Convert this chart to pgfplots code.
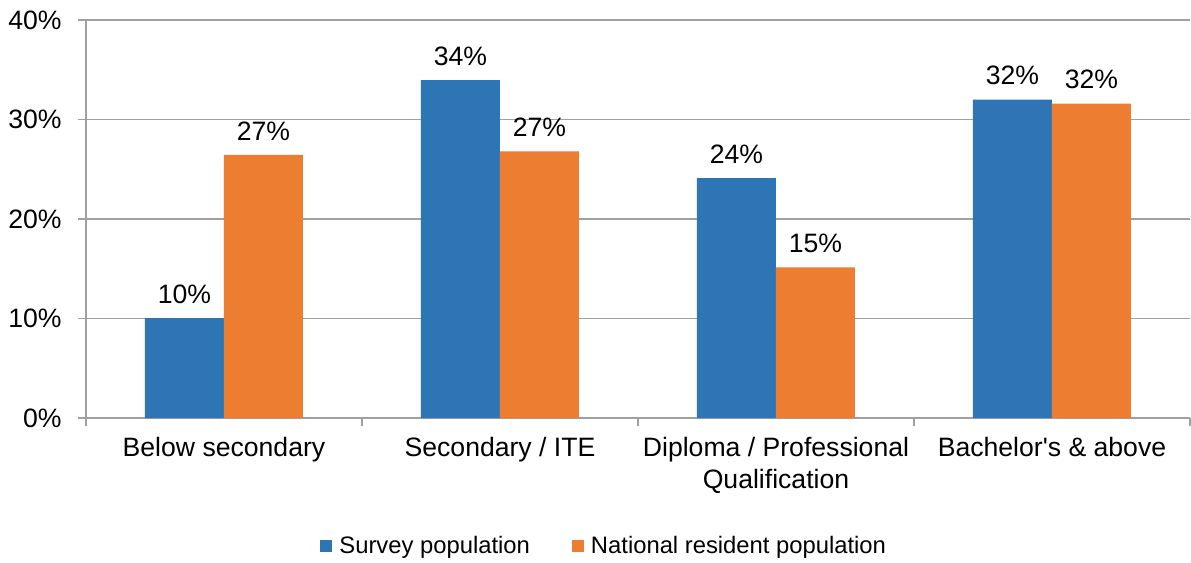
\documentclass[border=0pt]{standalone}
\usepackage{fontspec}
\setmainfont{Liberation Sans}[Ligatures=TeXOff]
\usepackage{pgfplots}
\pgfplotsset{compat=1.18}
\definecolor{cblue}{HTML}{2E75B6}
\definecolor{corange}{HTML}{ED7D31}
\definecolor{cgrid}{HTML}{A0A0A0}
\begin{document}
\begin{tikzpicture}[font=\fontsize{13.3}{16}\selectfont]
\path[use as bounding box] (-43pt,-72.5pt) rectangle (552.5pt,209pt);
\begin{axis}[
  at={(0,0)}, anchor=south west,
  scale only axis, width=552pt, height=199pt,
  ybar=0pt, bar width=39.5pt,
  xmin=-0.5, xmax=3.5, ymin=0, ymax=40,
  axis x line*=bottom, axis y line*=left,
  axis line style={cgrid, line width=0.8pt},
  xtick={0,1,2,3},
  xticklabels={Below secondary, Secondary / ITE, Diploma / Professional\\Qualification, Bachelor's \& above},
  xticklabel style={align=center, inner sep=0pt, anchor=north, yshift=-5.5pt},
  major x tick style={draw=none},
  minor xtick={-0.5,0.5,1.5,2.5,3.5},
  minor x tick style={cgrid, line width=0.8pt},
  minor tick length=4pt,
  ytick={0,10,20,30,40},
  yticklabels={0\%,10\%,20\%,30\%,40\%},
  yticklabel style={inner sep=0pt, anchor=east, xshift=-8pt},
  major y tick style={cgrid, line width=0.8pt},
  major tick length=4pt,
  tick align=outside,
  ymajorgrids, grid style={cgrid, line width=0.8pt},
  point meta=explicit symbolic,
  nodes near coords={\pgfplotspointmeta\%},
  every node near coord/.append style={anchor=south, inner sep=0pt, yshift=7pt, font=\fontsize{13.3}{16}\selectfont},
  legend style={at={(0.212,-0.322)}, anchor=west, draw=none, fill=none, inner sep=0pt,
    legend columns=2, /tikz/every even column/.style={column sep=19pt},
    font=\fontsize{11.9}{14}\selectfont},
  legend cell align=left,
]
\addplot[fill=cblue, draw=none, legend image code/.code={\fill[cblue] (0pt,-3pt) rectangle (6pt,3pt); \path (7.5pt,0pt);}]
  coordinates {(0,10.05) [10] (1,33.97) [34] (2,24.1) [24] (3,32.0) [32]};
\addplot[fill=corange, draw=none, legend image code/.code={\fill[corange] (0pt,-3pt) rectangle (6pt,3pt); \path (7.5pt,0pt);}]
  coordinates {(0,26.45) [27] (1,26.8) [27] (2,15.15) [15] (3,31.6) [32]};
\legend{Survey population, National resident population}
\end{axis}
\end{tikzpicture}
\end{document}
